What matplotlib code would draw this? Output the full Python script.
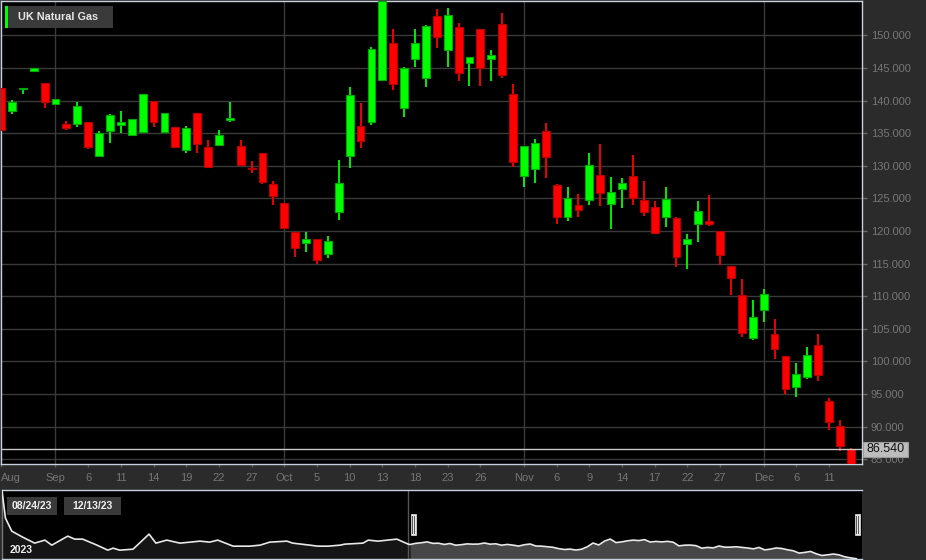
import numpy as np
import matplotlib
matplotlib.use('Agg')
import matplotlib.pyplot as plt
import pandas as pd
from matplotlib.patches import Rectangle

plt.rcParams['font.family'] = ['Liberation Sans', 'DejaVu Sans']

# ---------------- data ----------------
dates = [d for d in pd.bdate_range('2023-08-24', '2023-12-13') if d != pd.Timestamp('2023-08-28')]

opens = [141.97, 138.45, 141.72, 144.48, 142.64, 139.52, 136.35, 136.45, 136.76, 131.49,
         135.33, 136.30, 134.71, 135.17, 139.93, 135.22, 135.94, 132.36, 138.04, 132.92,
         133.18, 136.99, 133.03, 129.60, 131.90, 127.25, 124.23, 119.79, 118.15, 118.76,
         116.46, 122.85, 131.54, 136.15, 136.76, 143.20, 148.82, 138.80, 146.42, 143.40,
         152.97, 147.70, 151.28, 145.71, 150.92, 146.42, 151.74, 140.95, 128.48, 129.50,
         135.33, 127.04, 122.14, 123.98, 124.74, 128.53, 124.18, 126.48, 128.43, 124.74,
         123.72, 122.09, 121.98, 118.05, 121.06, 121.47, 119.99, 114.69, 110.14, 103.53,
         107.83, 104.20, 100.77, 96.11, 97.59, 102.51, 94.01, 90.12, 86.54]
highs = [142.00, 140.08, 141.90, 144.95, 142.64, 140.18, 136.91, 139.72, 136.76, 135.28,
         137.90, 138.40, 137.20, 141.00, 139.93, 138.10, 135.94, 136.09, 138.04, 133.94,
         135.48, 139.78, 133.94, 130.67, 131.90, 127.66, 124.30, 119.79, 119.79, 118.76,
         119.17, 130.83, 142.02, 139.57, 148.20, 155.60, 151.02, 145.10, 150.92, 151.60,
         153.99, 154.14, 151.84, 146.70, 150.92, 147.70, 153.37, 142.48, 133.10, 134.05,
         136.50, 127.20, 126.69, 125.61, 131.90, 133.33, 128.22, 128.07, 131.60, 127.66,
         124.64, 126.69, 122.10, 119.48, 124.54, 125.51, 120.00, 114.70, 112.64, 109.47,
         111.10, 106.55, 100.80, 99.74, 102.20, 104.20, 94.47, 91.09, 86.78]
lows = [134.70, 137.88, 140.95, 144.45, 138.90, 139.50, 135.48, 135.99, 132.52, 131.49,
        133.54, 135.07, 134.60, 135.00, 135.99, 135.00, 132.90, 131.90, 131.90, 129.70,
        133.00, 136.76, 130.00, 128.94, 127.25, 123.93, 120.50, 115.95, 116.72, 114.88,
        115.89, 121.73, 129.70, 132.67, 136.20, 143.20, 141.62, 137.42, 145.19, 142.02,
        148.00, 145.09, 143.00, 142.18, 142.18, 142.94, 143.40, 129.86, 126.69, 127.30,
        128.17, 121.01, 121.47, 122.09, 123.93, 123.89, 120.25, 123.47, 123.93, 122.29,
        119.60, 120.65, 114.52, 114.11, 118.25, 120.76, 114.78, 110.14, 103.68, 103.22,
        106.04, 100.36, 94.98, 94.57, 97.28, 96.98, 89.45, 86.22, 83.50]
closes = [135.48, 139.72, 141.87, 144.94, 139.72, 140.18, 135.74, 139.16, 132.92, 134.97,
          137.78, 136.71, 137.17, 140.95, 136.76, 138.09, 132.92, 135.79, 133.28, 129.86,
          134.66, 137.32, 130.11, 129.50, 127.45, 125.36, 120.50, 117.43, 118.76, 115.54,
          118.46, 127.35, 140.90, 133.79, 147.85, 155.30, 142.48, 145.04, 148.82, 151.43,
          149.74, 153.17, 144.27, 146.68, 144.94, 146.98, 143.97, 130.57, 133.03, 133.44,
          131.29, 122.14, 125.00, 123.26, 130.11, 125.87, 125.92, 127.30, 125.10, 122.96,
          119.73, 124.90, 116.05, 118.76, 123.01, 121.01, 116.31, 112.75, 104.30, 106.86,
          110.39, 101.89, 95.70, 98.15, 101.02, 97.85, 90.78, 87.09, 84.00]

tick_dates = ['2023-08-24', '2023-09-01', '2023-09-06', '2023-09-11', '2023-09-14', '2023-09-19',
              '2023-09-22', '2023-09-27', '2023-10-02', '2023-10-05', '2023-10-10', '2023-10-13',
              '2023-10-18', '2023-10-23', '2023-10-26', '2023-11-01', '2023-11-06', '2023-11-09',
              '2023-11-14', '2023-11-17', '2023-11-22', '2023-11-27', '2023-12-01', '2023-12-06',
              '2023-12-11']
tick_labels = ['Aug', 'Sep', '6', '11', '14', '19', '22', '27', 'Oct', '5', '10', '13', '18',
               '23', '26', 'Nov', '6', '9', '14', '17', '22', '27', 'Dec', '6', '11']
month_labels = ['Sep', 'Oct', 'Nov', 'Dec']
y_ticks = np.arange(85, 151, 5)
last_price = 86.54
series_name = 'UK Natural Gas'

# navigator history before the selected range (trading-day offset, price)
nav_hist_t = [-71.3, -70.7, -69.6, -67.7, -65.6, -63.8, -62.6, -59.8, -58.6, -57.2, -54.7,
              -52.8, -51.9, -50.7, -48.4, -45.6, -44.4, -42.5, -40.2, -36.7, -35.0, -33.6,
              -30.9, -28.0, -26.2, -24.5, -21.5, -20.5, -17.5, -16.1, -14.3, -12.2, -11.4,
              -8.2, -7.3, -5.6, -2.3, -0.3]
nav_hist_p = [329.5, 231.4, 184.1, 162.3, 140.5, 151.4, 133.2, 165.9, 155.0, 155.0, 133.2,
              115.0, 122.3, 115.0, 118.6, 173.2, 140.5, 151.4, 140.5, 147.7, 144.1, 151.4,
              129.5, 129.5, 133.2, 144.1, 147.7, 140.5, 133.2, 129.5, 129.5, 133.2, 136.8,
              140.5, 151.4, 147.7, 155.0, 136.8]
range_labels = ['08/24/23', '12/13/23']
year_label = '2023'

# ---------------- figure ----------------
W, H = 926, 560
fig = plt.figure(figsize=(W / 100, H / 100), dpi=100, facecolor='#2b2b2b')

def fx(px):
    return px / W

def fy(py):
    return 1 - py / H

BORDER = '#c9d0dc'
GRID = '#3a3a3a'
TXT = '#767676'

ax = fig.add_axes([fx(1), fy(464.3), fx(861.7 - 1), (464.3 - 1) / H])
ax.set_facecolor('black')

x = np.arange(len(opens))
o = np.array(opens); h = np.array(highs); l = np.array(lows); c = np.array(closes)
up = c >= o
body_col = np.where(up, '#00ff00', '#ff0000')
edge_col = np.where(up, '#00a800', '#b80000')

for yv in y_ticks:
    ax.axhline(yv, color=GRID, lw=1.0, zorder=1)
for d, lab in zip(tick_dates, tick_labels):
    if lab in month_labels:
        ax.axvline(dates.index(pd.Timestamp(d)), color=GRID, lw=1.0, zorder=1)

ax.vlines(x, l, h, colors=body_col, lw=1.3, zorder=2)
ax.bar(x, np.maximum(np.abs(c - o), 0.15), bottom=np.minimum(o, c), width=0.72,
       color=body_col, edgecolor=edge_col, linewidth=0.8, zorder=3)

ax.axhline(last_price, color='#c8c8c8', lw=1.0, zorder=4)

ax.set_xlim(0, 79.0)
ax.set_ylim(84.23, 155.26)

tick_pos = [dates.index(pd.Timestamp(d)) for d in tick_dates]
ax.set_xticks(tick_pos)
ax.set_xticklabels(tick_labels)
ax.tick_params(axis='x', colors='#5a5a5a', length=2.5, width=1, pad=4, labelsize=8, labelcolor=TXT)
ax.get_xticklabels()[0].set_horizontalalignment('left')

ax.yaxis.tick_right()
ax.set_yticks(y_ticks)
ax.set_yticklabels([f'{v:.3f}' for v in y_ticks])
ax.tick_params(axis='y', colors='#6a6a6a', length=3.5, width=1, pad=3, labelsize=8, labelcolor=TXT)

for s in ax.spines.values():
    s.set_color(BORDER)
    s.set_linewidth(1.0)

# series label box
fig.patches.append(Rectangle((fx(5), fy(28)), fx(108), 22 / H, transform=fig.transFigure,
                             facecolor='#3a3a3a', edgecolor='none', zorder=5))
fig.patches.append(Rectangle((fx(5), fy(28)), fx(3), 22 / H, transform=fig.transFigure,
                             facecolor='#00ff00', edgecolor='none', zorder=6))
fig.text(fx(18), fy(17), series_name, color='#e6e6e6', fontsize=7.8, fontweight='bold',
         va='center', ha='left', zorder=7)

# last price label
fig.patches.append(Rectangle((fx(863), fy(457)), fx(45), 15 / H, transform=fig.transFigure,
                             facecolor='#bdbdbd', edgecolor='#9a9a9a', lw=0.8, zorder=8))
fig.text(fx(885.5), fy(449.5), f'{last_price:.3f}', color='#111111', fontsize=9,
         va='center', ha='center', zorder=9)

# ---------------- navigator ----------------
nav = fig.add_axes([fx(2), 1 / H, fx(860), 69 / H])
nav.set_facecolor('black')
hist_t = np.array(nav_hist_t); hist_p = np.array(nav_hist_p)
sel_t = x.astype(float); sel_p = c
nav_bottom = 83
nav.fill_between(np.append(hist_t, sel_t[0]), np.append(hist_p, sel_p[0]), nav_bottom,
                 color='#151515', lw=0, zorder=1)
nav.fill_between(sel_t, sel_p, nav_bottom, color='#474747', lw=0, zorder=1)
nav.plot(np.concatenate([hist_t, sel_t]), np.concatenate([hist_p, sel_p]), color='#e8e8e8',
         lw=1.2, zorder=3)
nav.axvline(-0.35, color='#555555', lw=1.0, zorder=2)
nav.set_xlim(hist_t[0], 79.0)
nav.set_ylim(nav_bottom, 333)
nav.set_xticks([]); nav.set_yticks([])
for s in nav.spines.values():
    s.set_color(BORDER)
    s.set_linewidth(1.0)
nav.spines['left'].set_color('#777777')
nav.spines['right'].set_visible(False)

# handles
for hx in (410.5, 854.5):
    fig.patches.append(Rectangle((fx(hx), fy(535)), fx(5.5), 21 / H, transform=fig.transFigure,
                                 facecolor='#e8e8e8', edgecolor='#e8e8e8', lw=0.5, zorder=10))
    for k in (1.8, 3.7):
        fig.lines.append(plt.Line2D([fx(hx + k), fx(hx + k)], [fy(533), fy(516)],
                                    transform=fig.transFigure, color='#555555', lw=0.7, zorder=11))

# range labels
for (x0, wdt), lab in zip([(7, 50), (64, 57)], range_labels):
    fig.patches.append(Rectangle((fx(x0), fy(515)), fx(wdt), 18 / H, transform=fig.transFigure,
                                 facecolor='#3a3a3a', edgecolor='none', zorder=10))
    fig.text(fx(x0 + wdt / 2), fy(506), lab, color='#f0f0f0', fontsize=7.5, fontweight='bold',
             ha='center', va='center', zorder=11)
fig.text(fx(10), fy(550), year_label, color='#f0f0f0', fontsize=7.5, fontweight='bold',
         ha='left', va='center', zorder=11)

fig.savefig('out.png', dpi=100, facecolor=fig.get_facecolor())
